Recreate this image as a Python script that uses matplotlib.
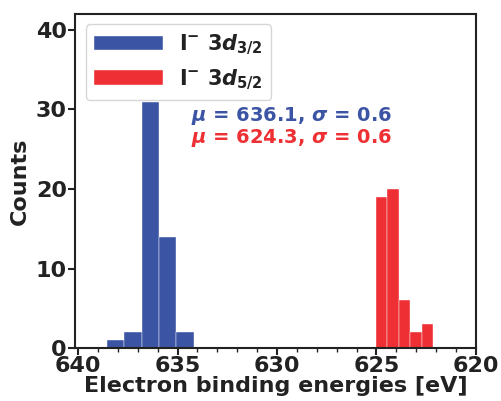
import numpy as np
import matplotlib.pyplot as plt

plt.rcParams['font.family'] = ['DejaVu Sans']
plt.rcParams['font.weight'] = 'bold'
plt.rcParams['text.color'] = '#222222'
plt.rcParams['xtick.color'] = '#222222'
plt.rcParams['ytick.color'] = '#222222'
plt.rcParams['axes.labelcolor'] = '#222222'
plt.rcParams['mathtext.fontset'] = 'custom'
plt.rcParams['mathtext.rm'] = 'DejaVu Sans:bold'
plt.rcParams['mathtext.it'] = 'DejaVu Sans:bold:italic'
plt.rcParams['mathtext.bf'] = 'DejaVu Sans:bold'

# histogram bins (eV) and counts
edges_32 = [638.54, 637.67, 636.80, 635.93, 635.06, 634.19]
counts_32 = [1, 2, 31, 14, 2]
edges_52 = [625.02, 624.45, 623.88, 623.30, 622.73, 622.15]
counts_52 = [19, 20, 6, 2, 3]

mu_32, sig_32 = 636.1, 0.6
mu_52, sig_52 = 624.3, 0.6

blue = '#3b54a4'
red = '#ee2f33'

fig = plt.figure(figsize=(5.01, 4.01), dpi=100)
ax = fig.add_axes([0.15, 0.132, 0.8, 0.833])

e32 = np.array(edges_32)
e52 = np.array(edges_52)
ax.bar(e32[:-1], counts_32, width=np.diff(e32), align='edge', color=blue,
       edgecolor='white', linewidth=0.3, label=r'I$^{-}$ 3$d_{3/2}$')
ax.bar(e52[:-1], counts_52, width=np.diff(e52), align='edge', color=red,
       edgecolor='white', linewidth=0.3, label=r'I$^{-}$ 3$d_{5/2}$')

ax.set_xlim(640.15, 620)
ax.set_ylim(0, 42)
ax.set_xticks([640, 635, 630, 625, 620])
ax.set_xticks(np.arange(620, 641, 1), minor=True)
ax.set_yticks([0, 10, 20, 30, 40])
ax.tick_params(axis='both', labelsize=16, width=1.5, length=5, pad=1)
ax.tick_params(axis='x', which='minor', length=3, width=1)
for s in ax.spines.values():
    s.set_linewidth(1.5)
    s.set_color('#222222')

ax.set_xlabel('Electron binding energies [eV]', fontsize=16, fontweight='bold', labelpad=0)
ax.set_ylabel('Counts', fontsize=16, fontweight='bold')

ax.text(0.54, 0.68, rf'$\mu$ = {mu_32}, $\sigma$ = {sig_32}', color=blue,
        fontsize=14, ha='center', transform=ax.transAxes)
ax.text(0.54, 0.615, rf'$\mu$ = {mu_52}, $\sigma$ = {sig_52}', color=red,
        fontsize=14, ha='center', transform=ax.transAxes)

ax.legend(loc='upper left', fontsize=15, handlelength=3.3, handleheight=0.7,
          borderaxespad=0.5)

fig.savefig('out.png', dpi=100)
